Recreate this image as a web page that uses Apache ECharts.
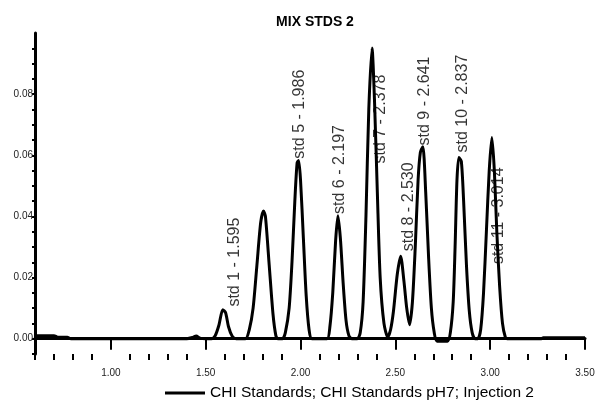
<!DOCTYPE html>
<html>
<head>
<meta charset="utf-8">
<script src="https://cdn.jsdelivr.net/npm/echarts@6/dist/echarts.min.js"></script>
<style>
  html, body { margin: 0; padding: 0; background: #fff; }
  #chart { width: 599px; height: 401px; }
</style>
</head>
<body>
<div id="chart"></div>
<script>
// retention time (min) / absorbance
const times = [
  0.60, 0.70, 0.72, 0.77, 0.79, 1.40, 1.43, 1.45, 1.47, 1.50, 1.53,
  1.55, 1.57, 1.59, 1.605, 1.62, 1.64, 1.66, 1.71,
  1.73, 1.75, 1.77, 1.79, 1.805, 1.815, 1.835, 1.855, 1.87, 1.88, 1.905,
  1.92, 1.94, 1.955, 1.97, 1.982, 1.99, 2.00, 2.015, 2.03, 2.045, 2.06, 2.14,
  2.155, 2.17, 2.185, 2.197, 2.21, 2.225, 2.24, 2.255, 2.27, 2.30,
  2.315, 2.33, 2.345, 2.36, 2.377, 2.39, 2.405, 2.42, 2.44, 2.46,
  2.475, 2.49, 2.51, 2.528, 2.545, 2.56, 2.575,
  2.59, 2.605, 2.62, 2.632, 2.645, 2.66, 2.675, 2.69, 2.705, 2.72, 2.775,
  2.79, 2.805, 2.815, 2.825, 2.835, 2.848, 2.86, 2.875, 2.89, 2.905, 2.92, 2.935,
  2.95, 2.965, 2.98, 2.995, 3.009, 3.022, 3.035, 3.05, 3.065, 3.08, 3.09,
  3.27, 3.28, 3.50
];
const absorb = [
  0.0010, 0.0010, 0.0005, 0.0005, 0.0000, 0.0000, 0.0004, 0.0009, 0.0002, 0.0000, 0.0000,
  0.0010, 0.0045, 0.0095, 0.0085, 0.0040, 0.0008, 0.0000, 0.0000,
  0.0030, 0.0100, 0.0240, 0.0380, 0.0418, 0.0400, 0.0240, 0.0080, 0.0010, 0.0000, 0.0000,
  0.0020, 0.0100, 0.0250, 0.0450, 0.0575, 0.0583, 0.0520, 0.0330, 0.0140, 0.0030, 0.0000, 0.0000,
  0.0040, 0.0150, 0.0320, 0.0402, 0.0330, 0.0180, 0.0060, 0.0010, 0.0000, 0.0000,
  0.0020, 0.0120, 0.0400, 0.0750, 0.0951, 0.0780, 0.0480, 0.0200, 0.0050, 0.0005,
  0.0030, 0.0090, 0.0210, 0.0270, 0.0190, 0.0100, 0.0046,
  0.0120, 0.0300, 0.0520, 0.0610, 0.0628, 0.0480, 0.0270, 0.0100, 0.0020, -0.0008, -0.0008,
  0.0020, 0.0120, 0.0300, 0.0520, 0.0593, 0.0580, 0.0450, 0.0240, 0.0090, 0.0020, 0.0000, 0.0000,
  0.0030, 0.0150, 0.0350, 0.0550, 0.0658, 0.0550, 0.0350, 0.0170, 0.0050, 0.0005, 0.0000,
  0.0000, 0.0003, 0.0003
];

// peak annotations: text, and where the rotated label starts
const peakNames = ['std 1 - 1.595', 'std 5 - 1.986', 'std 6 - 2.197', 'std 7 - 2.378',
  'std 8 - 2.530', 'std 9 - 2.641', 'std 10 - 2.837', 'std 11 - 3.014'];
const peakLabelT = [1.654, 1.997, 2.205, 2.424, 2.572, 2.656, 2.856, 3.046];
const peakLabelV = [0.0105, 0.0589, 0.0408, 0.0573, 0.0286, 0.0632, 0.0609, 0.0244];

const xLabels = [1.0, 1.5, 2.0, 2.5, 3.0, 3.5];
const xMinorTicks = [0.6, 0.7, 0.8, 0.9, 1.1, 1.2, 1.3, 1.4, 1.6, 1.7, 1.8, 1.9, 2.1, 2.2, 2.3, 2.4,
  2.6, 2.7, 2.8, 2.9, 3.1, 3.2, 3.3, 3.4];
const yLabels = [0, 0.02, 0.04, 0.06, 0.08];
const yTicks = [-0.005, 0, 0.005, 0.01, 0.015, 0.02, 0.025, 0.03, 0.035, 0.04, 0.045, 0.05,
  0.055, 0.06, 0.065, 0.07, 0.075, 0.08, 0.085, 0.09, 0.095];

const seriesName = 'CHI Standards; CHI Standards pH7; Injection 2';
const font = 'Liberation Sans, Arial, sans-serif';

const chart = echarts.init(document.getElementById('chart'), null, { renderer: 'canvas' });

chart.setOption({
  backgroundColor: '#fff',
  animation: false,
  title: {
    text: 'MIX STDS 2',
    left: 310,
    textAlign: 'center',
    top: 10,
    textStyle: { fontFamily: font, fontSize: 14, fontWeight: 'bold', color: '#000' }
  },
  legend: {
    data: [{ name: seriesName, icon: 'rect' }],
    left: 160,
    top: 380,
    itemWidth: 40,
    itemHeight: 3,
    itemGap: 10,
    textStyle: { fontFamily: font, fontSize: 15.5, color: '#000' }
  },
  grid: { left: 35, right: 14, top: 33, bottom: 47 },
  xAxis: [
    {
      type: 'value',
      min: 0.6,
      max: 3.5,
      position: 'bottom',
      axisLine: { lineStyle: { color: '#000', width: 3 } },
      axisTick: { customValues: xLabels, length: 11, lineStyle: { color: '#000', width: 2 } },
      axisLabel: {
        customValues: xLabels,
        margin: 14,
        fontFamily: font,
        fontSize: 10,
        color: '#222',
        formatter: v => v.toFixed(2)
      },
      splitLine: { show: false }
    },
    {
      type: 'value',
      min: 0.6,
      max: 3.5,
      position: 'bottom',
      axisLine: { show: false },
      axisTick: { customValues: xMinorTicks, length: 6, lineStyle: { color: '#000', width: 2 } },
      axisLabel: { show: false },
      splitLine: { show: false }
    }
  ],
  yAxis: {
    type: 'value',
    min: -0.005,
    max: 0.1,
    axisLine: { show: true, lineStyle: { color: '#000', width: 3 } },
    axisTick: { show: true, customValues: yTicks, length: 3, lineStyle: { color: '#000', width: 2 } },
    axisLabel: {
      customValues: yLabels,
      margin: 2,
      fontFamily: font,
      fontSize: 10,
      color: '#222',
      formatter: v => v.toFixed(2)
    },
    splitLine: { show: false }
  },
  series: [
    {
      name: seriesName,
      type: 'line',
      data: times.map((t, i) => [t, absorb[i]]),
      symbol: 'none',
      smooth: 0.25,
      lineStyle: { color: '#000', width: 3 },
      itemStyle: { color: '#000' },
      z: 3
    },
    {
      name: 'peaks',
      type: 'scatter',
      data: peakLabelT.map((t, i) => ({ value: [t, peakLabelV[i]], name: peakNames[i] })),
      symbolSize: 0,
      silent: true,
      label: {
        show: true,
        position: [0, 0],
        rotate: 90,
        align: 'left',
        verticalAlign: 'middle',
        fontFamily: font,
        fontSize: 16,
        color: '#000',
        formatter: p => p.name
      },
      z: 4
    }
  ]
});
</script>
</body>
</html>
